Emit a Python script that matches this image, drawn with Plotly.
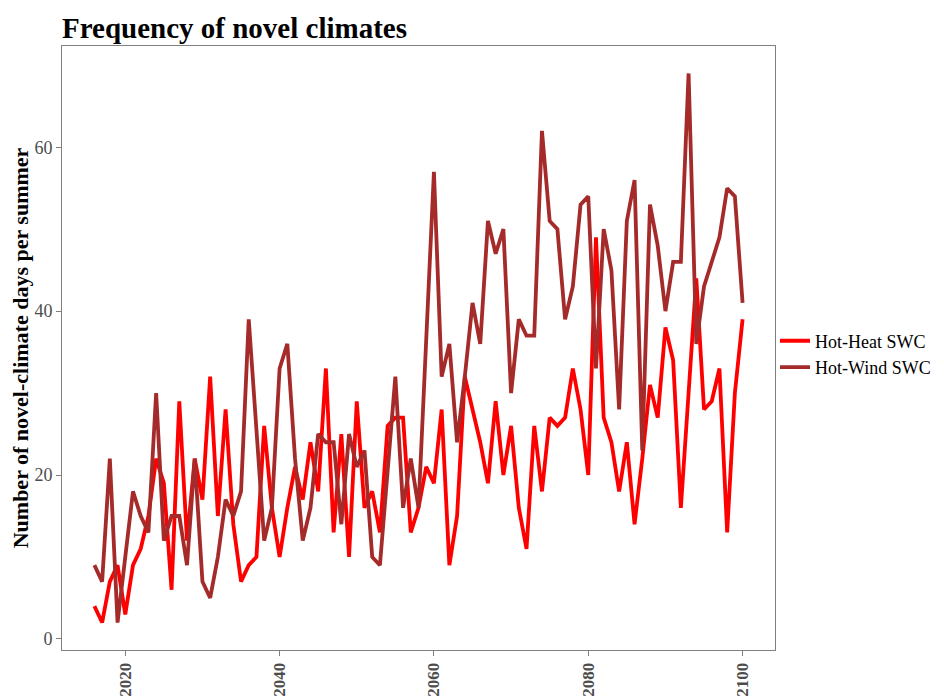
import plotly.graph_objects as go

# years on the x axis
years = list(range(2016, 2101))

# Hot-Heat SWC (red) days per summer
hot_heat = [
    4, 2, 7, 9, 3, 9, 11, 15, 22, 19,
    6, 29, 12, 22, 17, 32, 15, 28, 14, 7,
    9, 10, 26, 16, 10, 16, 21, 17, 24, 18,
    33, 13, 25, 10, 29, 16, 18, 13, 26, 27,
    27, 13, 16, 21, 19, 28, 9, 15, 32, 28,
    24, 19, 29, 20, 26, 16, 11, 26, 18, 27,
    26, 27, 33, 28, 20, 49, 27, 24, 18, 24,
    14, 22, 31, 27, 38, 34, 16, 30, 44, 28,
    29, 33, 13, 30, 39,
]

# Hot-Wind SWC (brown) days per summer
hot_wind = [
    9, 7, 22, 2, 10, 18, 15, 13, 30, 12,
    15, 15, 9, 22, 7, 5, 10, 17, 15, 18,
    39, 25, 12, 16, 33, 36, 22, 12, 16, 25,
    24, 24, 14, 25, 21, 23, 10, 9, 20, 32,
    16, 22, 16, 36, 57, 32, 36, 24, 32, 41,
    36, 51, 47, 50, 30, 39, 37, 37, 62, 51,
    50, 39, 43, 53, 54, 33, 50, 45, 28, 51,
    56, 23, 53, 48, 40, 46, 46, 69, 36, 43,
    46, 49, 55, 54, 41,
]

x_ticks = [2020, 2040, 2060, 2080, 2100]
y_ticks = [0, 20, 40, 60]

SERIF = "Liberation Serif, Times New Roman, serif"

# the page body adds an 8px offset, so the figure is 8px smaller than the window
W, H = 936, 689

fig = go.Figure()
fig.add_trace(go.Scatter(
    x=years, y=hot_heat, mode="lines", name="Hot-Heat SWC",
    line=dict(color="#FF0000", width=3.8),
))
fig.add_trace(go.Scatter(
    x=years, y=hot_wind, mode="lines", name="Hot-Wind SWC",
    line=dict(color="#A52A2A", width=3.8),
))

fig.update_layout(
    width=W, height=H,
    margin=dict(l=54, r=169, t=38, b=47, autoexpand=False),
    paper_bgcolor="white",
    plot_bgcolor="white",
    font=dict(family=SERIF, color="black"),
    title=dict(
        text="<b>Frequency of novel climates</b>",
        x=54 / W, xanchor="left",
        y=1 - 20 / H, yanchor="middle",
        font=dict(size=29, family=SERIF, color="black"),
    ),
    legend=dict(
        x=1.0, xanchor="left", y=0.49, yanchor="middle",
        font=dict(size=18, family=SERIF, color="black"),
        tracegroupgap=0, itemwidth=30,
        bgcolor="rgba(0,0,0,0)",
    ),
    showlegend=True,
)

fig.update_xaxes(
    range=[2011.8, 2104.2],
    tickvals=x_ticks,
    ticktext=[str(t) for t in x_ticks],
    tickangle=-90,
    tickfont=dict(size=17, family=SERIF, color="#4D4D4D", weight="bold"),
    ticks="outside", ticklen=5, tickcolor="#7F7F7F",
    showgrid=False, zeroline=False, automargin=False,
    showline=True, linecolor="#7F7F7F", linewidth=1, mirror=True,
)
fig.update_yaxes(
    range=[-1.35, 72.35],
    tickvals=y_ticks,
    tickfont=dict(size=18, family=SERIF, color="#4D4D4D"),
    ticks="outside", ticklen=5, tickcolor="#7F7F7F",
    showgrid=False, zeroline=False, automargin=False,
    showline=True, linecolor="#7F7F7F", linewidth=1, mirror=True,
    title=dict(
        text="<b>Number of novel-climate days per summer</b>",
        font=dict(size=22, family=SERIF, color="black"),
        standoff=8,
    ),
)

fig.write_html("out.html")
